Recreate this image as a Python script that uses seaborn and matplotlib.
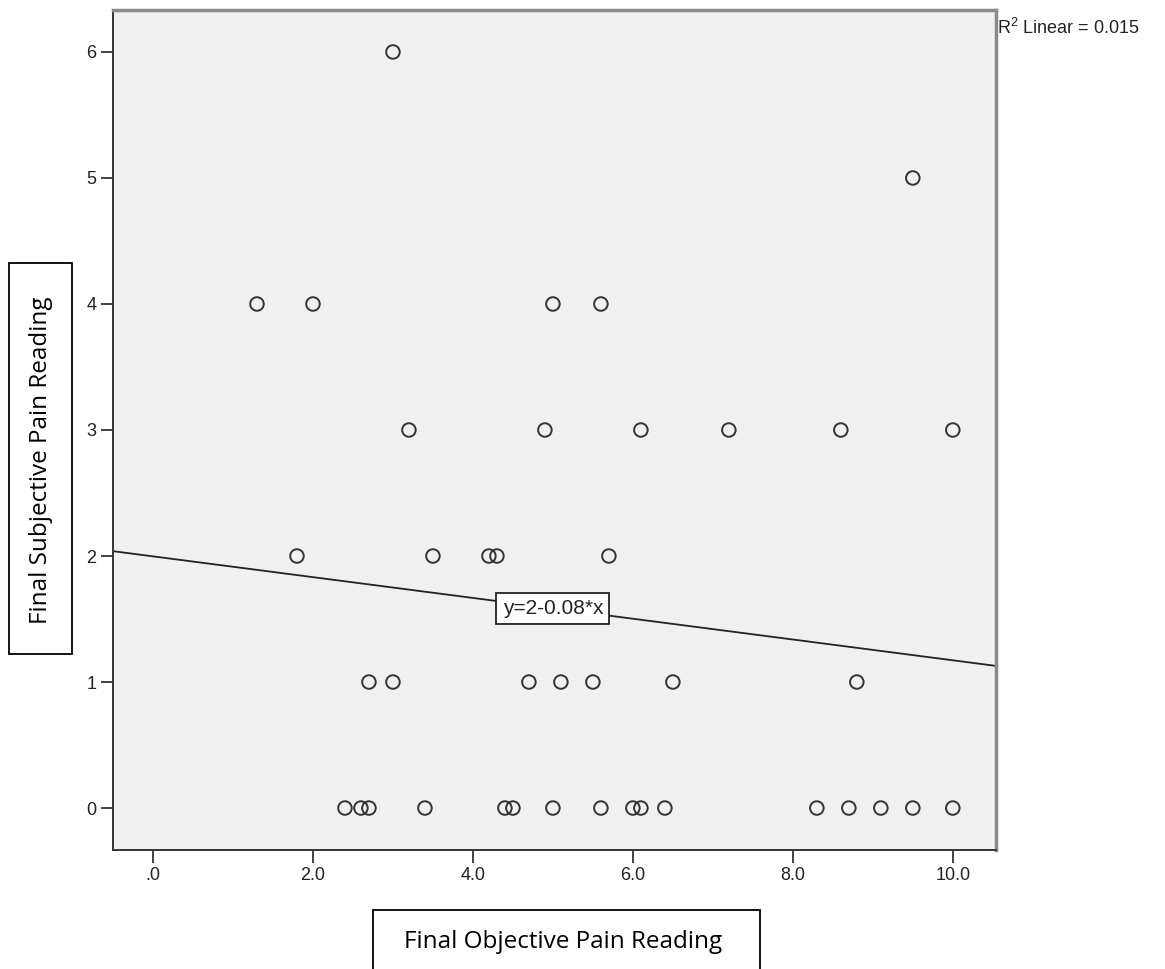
import matplotlib
matplotlib.use("Agg")
import matplotlib.pyplot as plt
import matplotlib.patches as patches
import numpy as np
import seaborn as sns

# --- data ---
objective = [3.0,
             9.5,
             1.3, 2.0, 5.0, 5.6,
             3.2, 4.9, 6.1, 7.2, 8.6, 10.0,
             1.8, 3.5, 4.2, 4.3, 5.7,
             2.7, 3.0, 4.7, 5.1, 5.5, 6.5, 8.8,
             2.4, 2.6, 2.7, 3.4, 4.4, 4.5, 5.0, 5.6, 6.0, 6.1, 6.4, 8.3, 8.7, 9.1, 9.5, 10.0]
subjective = [6,
              5,
              4, 4, 4, 4,
              3, 3, 3, 3, 3, 3,
              2, 2, 2, 2, 2,
              1, 1, 1, 1, 1, 1, 1,
              0, 0, 0, 0, 0, 0, 0, 0, 0, 0, 0, 0, 0, 0, 0, 0]

x_ticks = [0, 2, 4, 6, 8, 10]
x_tick_labels = [".0", "2.0", "4.0", "6.0", "8.0", "10.0"]
y_ticks = [0, 1, 2, 3, 4, 5, 6]
equation = "y=2-0.08*x"
r2_text = r"R$^2$ Linear = 0.015"

sns.set_theme(style="white")
plt.rcParams['font.family'] = ['Liberation Sans', 'DejaVu Sans']
plt.rcParams['mathtext.default'] = 'regular'

W, H = 1165, 969
fig = plt.figure(figsize=(W / 100, H / 100), dpi=100)
ax = fig.add_axes([113 / W, 1 - 850 / H, (996 - 113) / W, 840 / H])
ax.set_facecolor('#F0F0F0')
ax.set_xlim(-0.5, 10.54)
ax.set_ylim(-0.333, 6.333)

sns.regplot(x=objective, y=subjective, ax=ax, ci=None, truncate=False,
            scatter_kws=dict(s=95, color='#333333', facecolors='none',
                             edgecolors='#333333', linewidths=1.4, alpha=1),
            line_kws=dict(color='#222222', lw=1.3))
ax.set_xlim(-0.5, 10.54)
ax.set_ylim(-0.333, 6.333)

# equation label sitting on the fit line
slope, intercept = np.polyfit(objective, subjective, 1)
ax.text(5.0, intercept + slope * 5.0, equation, ha='center', va='center',
        fontsize=15, color='#222222',
        bbox=dict(boxstyle='square,pad=0.3', fc='white', ec='#222222', lw=1.3))

ax.set_xticks(x_ticks)
ax.set_xticklabels(x_tick_labels)
ax.set_yticks(y_ticks)
ax.set_yticklabels([str(v) for v in y_ticks])
ax.tick_params(bottom=True, left=True, direction='out', length=9, width=1.3,
               color='#333333', labelsize=13, labelcolor='#222222', pad=3)

for side in ['left', 'bottom']:
    ax.spines[side].set_color('#333333')
    ax.spines[side].set_linewidth(1.4)
for side in ['top', 'right']:
    ax.spines[side].set_color('#8a8a8a')
    ax.spines[side].set_linewidth(2.5)

fig.text(997 / W, 1 - 28 / H, r2_text, ha='left', va='center', fontsize=13, color='#222222')

# boxed axis titles
fig.patches.append(patches.Rectangle((373 / W, 1 - 990 / H), (760 - 373) / W, 80 / H,
                                     transform=fig.transFigure, fill=False, ec='black', lw=1.3))
fig.text(563 / W, 1 - 942 / H, "Final Objective Pain Reading", ha='center', va='center',
         family='Open Sans', fontsize=17.5, color='black')

fig.patches.append(patches.Rectangle((9 / W, 1 - 654 / H), 63 / W, 391 / H,
                                     transform=fig.transFigure, fill=False, ec='black', lw=1.3))
fig.text(41 / W, 1 - 460 / H, "Final Subjective Pain Reading", ha='center', va='center',
         rotation=90, family='Open Sans', fontsize=17.5, color='black')

fig.savefig("out.png", dpi=100)
